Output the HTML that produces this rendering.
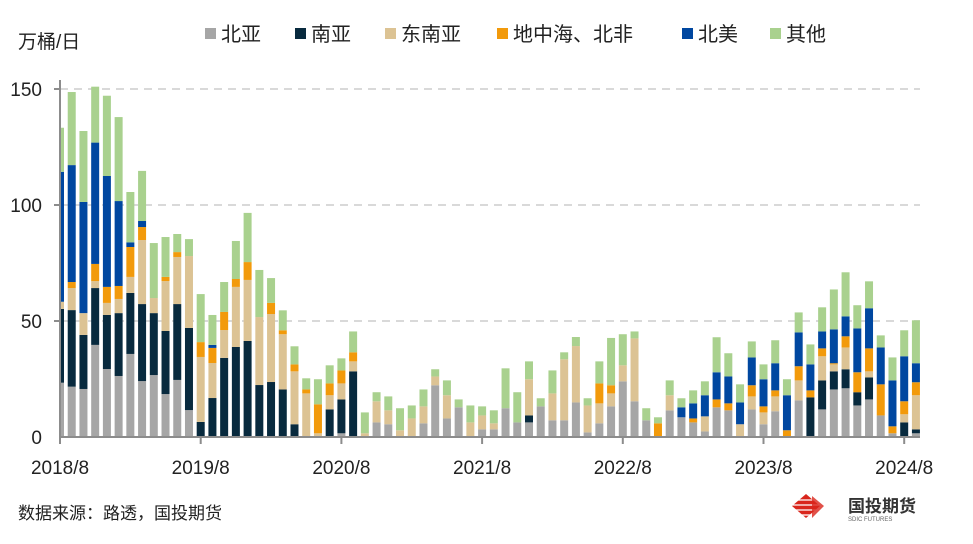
<!DOCTYPE html>
<html><head><meta charset="utf-8"><style>
body{margin:0;background:#fff;width:973px;height:539px;overflow:hidden;font-family:"Liberation Sans","Noto Sans CJK SC",sans-serif}
svg text{font-family:"Liberation Sans","Noto Sans CJK SC",sans-serif}
</style></head><body>
<svg id="chart" width="973" height="539" xmlns="http://www.w3.org/2000/svg">
<defs><clipPath id="plotclip"><rect x="60" y="0" width="900" height="440"/></clipPath></defs>
<text x="18" y="48" font-size="19" fill="#222">万桶/日</text>
<g id="legend"></g>
<g id="grid"></g>
<g id="bars" clip-path="url(#plotclip)"></g>
<g id="axes"></g>
<text x="18" y="519" font-size="17" fill="#222">数据来源：路透，国投期货</text>
<g>
<g fill="#d9261c"><polygon points="792,506 806,494 820,506 806,518"/></g>
<g stroke="#fff" stroke-width="1.3"><line x1="794" y1="500" x2="818" y2="500"/><line x1="792" y1="505" x2="820" y2="505"/><line x1="794" y1="510" x2="818" y2="510"/><line x1="798" y1="515" x2="814" y2="515"/></g>
<polygon points="812,496 824,506 812,518" fill="#d9261c" opacity="0.8"/>
<text x="848" y="512" font-size="17" font-weight="bold" fill="#333">国投期货</text>
<text x="848" y="521" font-size="6" fill="#666">SDIC FUTURES</text>
</g>
</svg>
<script>
const categories = ["2018/8","2018/9","2018/10","2018/11","2018/12","2019/1","2019/2","2019/3","2019/4","2019/5","2019/6","2019/7","2019/8","2019/9","2019/10","2019/11","2019/12","2020/1","2020/2","2020/3","2020/4","2020/5","2020/6","2020/7","2020/8","2020/9","2020/10","2020/11","2020/12","2021/1","2021/2","2021/3","2021/4","2021/5","2021/6","2021/7","2021/8","2021/9","2021/10","2021/11","2021/12","2022/1","2022/2","2022/3","2022/4","2022/5","2022/6","2022/7","2022/8","2022/9","2022/10","2022/11","2022/12","2023/1","2023/2","2023/3","2023/4","2023/5","2023/6","2023/7","2023/8","2023/9","2023/10","2023/11","2023/12","2024/1","2024/2","2024/3","2024/4","2024/5","2024/6","2024/7","2024/8","2024/9"];
const northAsia = [23.4,21.7,20.7,39.7,29.3,26.3,35.8,24.1,26.7,18.5,24.6,11.6,0,0,0,0,0,0,0,0,0,0,0,0,1.6,0,0,6.3,5.5,0,0,5.9,22.3,8,12.8,0,3.3,3.3,12.4,6.3,6.3,13.2,7.2,7.2,14.9,2,5.9,13.2,24,15.4,7.2,0,11.5,8.5,6.3,2.4,12.8,11.5,0,11.9,5.5,11.1,0,15.8,0,11.9,20.5,21,13.6,16.2,9.3,1.6,0,1.6];
const southAsia = [31.8,33,23.3,24.5,23.3,27.1,26.3,33.2,26.7,27.2,32.7,35.4,6.5,16.8,34.1,38.8,41.4,22.4,23.7,20.5,5.5,0,0,11.9,14.6,28.3,0,0,0,0,0,0,0,0,0,0,0,0,0,0,3,0,0,0,0,0,0,0,0,0,0,0,0,0,0,0,0,0,0,0,0,0,0,0,17.1,12.5,7.8,8.2,5.7,9.5,0,0,6.3,1.7];
const southeastAsia = [3.1,9.5,9.4,3,5.2,6.1,6.9,27.6,6.5,21.5,20.3,31,28,15.1,12,25.9,26.3,29.3,29.3,23.8,22.8,18.8,1.6,6.1,6.9,4.3,1.6,9.1,6,2.9,8,7.3,3.8,10,0,6.3,6,2.6,0,0,15.6,0,11.6,26.3,24.3,11.6,8.6,5.6,6.9,27.1,0,0,6.5,0,0,6.5,0,0,5.5,5.6,5.1,6.4,0,8.6,0,10.4,3,9.4,0,2.6,0,0,3.5,14.7];
const medNorthAfrica = [0,2.6,0,7.4,6.9,5.6,12.9,5.6,0,1.8,2.1,0,6.4,6.5,7.8,3.4,7.7,0,4.8,1.7,3,1.7,12.5,5.1,5.6,3.9,0,0,0,0,0,0,0,0,0,0,0,0,0,0,0,0,0,0,0,0,8.6,3.5,0,0,0,5.9,0,0,1.7,0,3.4,3,0,4.8,2.6,2.6,2.9,6.1,3,3.4,0.5,4.8,8.6,9.9,13.4,3,5.6,5.6];
const northAmerica = [56,50.4,47.9,52.3,47.8,36.6,2,2.6,0,0,0,0,0,1.3,0,0,0,0,0,0,0,0,0,0,0,0,0,0,0,0,0,0,0,0,0,0,0,0,0,0,0,0,0,0,0,0,0,0,0,0,0,0,0,4.3,6.5,9.1,11.7,11.6,9.4,12,11.7,11.7,15.1,14.6,11.2,7.3,14.6,8.6,18.9,17.3,15.9,19.8,19.4,8.2];
const others = [19,31.5,30.6,24.1,34.6,36.2,21.7,21.6,23.7,17.2,7.8,7.3,20.7,12.9,12.9,16.4,21.2,20.3,10.7,8.6,7.8,4.8,10.8,7.8,5.2,9,9,3.9,6,9.5,5.6,7.3,3.1,6.4,3.4,7.3,3.9,5.6,17.2,13,7.7,3.5,9.9,3,3.9,3.1,9.5,20.4,13.4,3,5.2,2.6,6.4,3.9,5.6,6,15.1,10,7.8,6.9,6.4,9.9,6.9,8.6,8.6,10.4,17.2,19,10,11.6,5.2,9.9,11.2,18.5];
const seriesNames = ["北亚","南亚","东南亚","地中海、北非","北美","其他"];
const yTicks = [0,50,100,150];
const xTickLabels = ["2018/8","2019/8","2020/8","2021/8","2022/8","2023/8","2024/8"];

const series=[northAsia,southAsia,southeastAsia,medNorthAfrica,northAmerica,others];
const colors=["#a6a6a6","#082a3e","#dcc394","#f29a0b","#0047a0","#a9d18e"];
const slugs=["north-asia","south-asia","southeast-asia","mediterranean-north-africa","north-america","others"];
const NS="http://www.w3.org/2000/svg";
const x0=60, step=11.725, y0=437, k=2.32, bw=8;
const xs=i=>x0+step*i;
const ys=v=>y0-v*k;
function mk(t,a,p){const e=document.createElementNS(NS,t);for(const n in a)e.setAttribute(n,a[n]);p.appendChild(e);return e;}
const grid=document.getElementById('grid'),bars=document.getElementById('bars'),axes=document.getElementById('axes'),legend=document.getElementById('legend');
yTicks.forEach(t=>{
  if(t>0){const l=mk('line',{x1:x0,x2:920,y1:ys(t),y2:ys(t),stroke:'#d9d9d9','stroke-width':2,'stroke-dasharray':'8,6'},grid);
  
  }
  const tx=mk('text',{x:42,y:ys(t)+7,'text-anchor':'end','font-size':19,fill:'#222'},axes);tx.textContent=t;
  
  
});
categories.forEach((c,i)=>{
  let acc=0;
  series.forEach((s,j)=>{
    const v=s[i]; if(!v) {return;}
    const r=mk('rect',{x:xs(i)-bw/2,y:ys(acc+v),width:bw,height:v*k,fill:colors[j]},bars);
    
    
    acc+=v;
  });
});
mk('line',{x1:x0,x2:x0,y1:80,y2:438,stroke:'#8c8c8c','stroke-width':2},axes);
mk('line',{x1:x0-6,x2:x0,y1:ys(50),y2:ys(50),stroke:'#8c8c8c','stroke-width':2},axes);
mk('line',{x1:x0-6,x2:x0,y1:ys(100),y2:ys(100),stroke:'#8c8c8c','stroke-width':2},axes);
mk('line',{x1:x0-6,x2:x0,y1:ys(150),y2:ys(150),stroke:'#8c8c8c','stroke-width':2},axes);
mk('line',{x1:x0,x2:920,y1:y0,y2:y0,stroke:'#8c8c8c','stroke-width':2},axes);
xTickLabels.forEach(lab=>{
  const i=categories.indexOf(lab), x=xs(i);
  mk('line',{x1:x,x2:x,y1:y0,y2:y0+7,stroke:'#8c8c8c','stroke-width':2},axes);
  const t=mk('text',{x:x,y:474,'text-anchor':'middle','font-size':19,fill:'#222'},axes);t.textContent=lab;
  
  
});
const lx=[205,295,385,497,682,770];
seriesNames.forEach((n,j)=>{
  const g=mk('g',{},legend);
  
  
  mk('rect',{x:lx[j],y:28,width:11,height:11,fill:colors[j]},g);
  const t=mk('text',{x:lx[j]+16,y:41,'font-size':20,fill:'#222'},g);t.textContent=n;
});
</script>
</body></html>
